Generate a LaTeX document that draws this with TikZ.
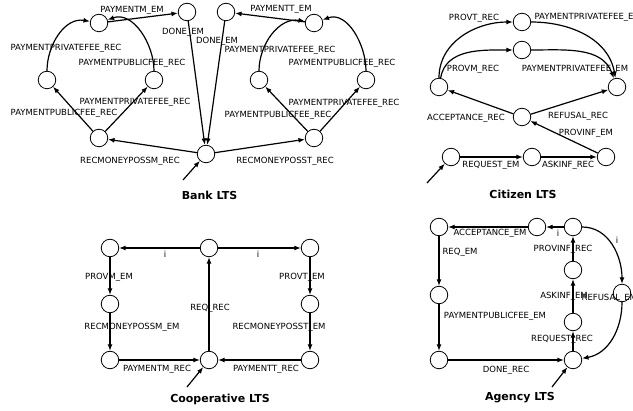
\documentclass[tikz,border=0pt]{standalone}
\usepackage{fontspec}
\setmainfont{DejaVu Sans}
\usetikzlibrary{arrows.meta}
\begin{document}
\begin{tikzpicture}[x=1pt,y=-1pt,
 st/.style={circle,draw,line width=0.8pt,minimum size=17.5pt,inner sep=0pt},
 tr/.style={-{Latex[length=6.5pt,width=5pt]},line width=1.2pt},
 lbl/.style={font=\fontsize{8.5}{10}\selectfont,inner sep=0pt},
 ttl/.style={font=\fontsize{11}{13}\selectfont\bfseries,inner sep=0pt}]
\useasboundingbox (0,0) rectangle (633,411);
% ---------------- Bank LTS
\node[st] (b1) at (99,23) {};
\node[st] (bd1) at (187,12) {};
\node[st] (bd2) at (226,12) {};
\node[st] (b2) at (314,23) {};
\node[st] (bll) at (47,80) {};
\node[st] (blr) at (154,80) {};
\node[st] (brl) at (259,80) {};
\node[st] (brr) at (366,80) {};
\node[st] (bbl) at (99,138) {};
\node[st] (bbr) at (314,138) {};
\node[st] (bc) at (206,154) {};
\coordinate (bi) at (183,180);
\draw[tr] (bi) -- (bc);
\draw[tr] (bc) -- (bbl) node[lbl,at={(130,161)}] {RECMONEYPOSSM\_REC};
\draw[tr] (bc) -- (bbr) node[lbl,at={(285,161)}] {RECMONEYPOSST\_REC};
\draw[tr] (bbl) -- (bll) node[lbl,at={(64,113)}] {PAYMENTPUBLICFEE\_REC};
\draw[tr] (bbl) -- (blr) node[lbl,at={(135,102)}] {PAYMENTPRIVATEFEE\_REC};
\draw[tr] (bbr) -- (brl) node[lbl,at={(278,115)}] {PAYMENTPUBLICFEE\_REC};
\draw[tr] (bbr) -- (brr) node[lbl,at={(344,103)}] {PAYMENTPRIVATEFEE\_REC};
\draw[tr] (bll) to[out=90,in=170] (b1) node[lbl,at={(66,48)}] {PAYMENTPRIVATEFEE\_REC};
\draw[tr] (blr) to[out=90,in=20] (b1) node[lbl,at={(132,63)}] {PAYMENTPUBLICFEE\_REC};
\draw[tr] (brl) to[out=90,in=170] (b2) node[lbl,at={(280,50)}] {PAYMENTPRIVATEFEE\_REC};
\draw[tr] (brr) to[out=90,in=20] (b2) node[lbl,at={(342,63)}] {PAYMENTPUBLICFEE\_REC};
\draw[tr] (b1) -- (bd1) node[lbl,at={(132,10)}] {PAYMENTM\_EM};
\draw[tr] (b2) -- (bd2) node[lbl,at={(281,9)}] {PAYMENTT\_EM};
\draw[tr] (bd1) -- (bc) node[lbl,at={(183,32)}] {DONE\_EM};
\draw[tr] (bd2) -- (bc) node[lbl,at={(217,41)}] {DONE\_EM};
\node[ttl] (tb) at (209.5,195) {Bank LTS};
% ---------------- Citizen LTS
\node[st] (c1) at (522,22) {};
\node[st] (c2) at (522,50) {};
\node[st] (cl) at (439,87) {};
\node[st] (cr) at (617,87) {};
\node[st] (cm) at (522,117) {};
\node[st] (c3) at (451,157) {};
\node[st] (c4) at (532,157) {};
\node[st] (c5) at (606,157) {};
\coordinate (ci) at (427,183);
\draw[tr] (ci) -- (c3);
\draw[tr] (c3) -- (c4) node[lbl,at={(491,165)}] {REQUEST\_EM};
\draw[tr] (c4) -- (c5) node[lbl,at={(568,165)}] {ASKINF\_REC};
\draw[tr] (c5) -- (cm) node[lbl,at={(586,133)}] {PROVINF\_EM};
\draw[tr] (cm) -- (cl) node[lbl,at={(466,118)}] {ACCEPTANCE\_REC};
\draw[tr] (cm) -- (cr) node[lbl,at={(578,116)}] {REFUSAL\_REC};
\draw[tr] (cl) to[out=90,in=180] (c1) node[lbl,at={(474,18)}] {PROVT\_REC};
\draw[tr] (cl) to[out=80,in=180] (c2) node[lbl,at={(473,69)}] {PROVM\_REC};
\draw[tr] (c1) to[out=0,in=100] (cr) node[lbl,anchor=west,at={(534,17)}] {PAYMENTPRIVATEFEE\_EM};
\draw[tr] (c2) to[out=0,in=110] (cr) node[lbl,at={(575,69)}] {PAYMENTPRIVATEFEE\_EM};
\node[ttl] (tc) at (523,194) {Citizen LTS};
% ---------------- Cooperative LTS
\node[st] (ktl) at (110,248) {};
\node[st] (ktm) at (209,248) {};
\node[st] (ktr) at (310,248) {};
\node[st] (kml) at (110,304) {};
\node[st] (kmr) at (310,304) {};
\node[st] (kbl) at (110,360) {};
\node[st] (kbm) at (209,360) {};
\node[st] (kbr) at (310,360) {};
\coordinate (ki) at (187,387);
\draw[tr] (ki) -- (kbm);
\draw[tr] (ktm) -- (ktl) node[lbl,at={(165,254)}] {i};
\draw[tr] (ktm) -- (ktr) node[lbl,at={(258,254)}] {i};
\draw[tr] (ktl) -- (kml) node[lbl,at={(109,277)}] {PROVM\_EM};
\draw[tr] (ktr) -- (kmr) node[lbl,at={(302,277)}] {PROVT\_EM};
\draw[tr] (kml) -- (kbl) node[lbl,at={(132,327)}] {RECMONEYPOSSM\_EM};
\draw[tr] (kmr) -- (kbr) node[lbl,at={(279,327)}] {RECMONEYPOSST\_EM};
\draw[tr] (kbl) -- (kbm) node[lbl,at={(157,369)}] {PAYMENTM\_REC};
\draw[tr] (kbr) -- (kbm) node[lbl,at={(266,369)}] {PAYMENTT\_REC};
\draw[tr] (kbm) -- (ktm) node[lbl,at={(210,308)}] {REQ\_REC};
\node[ttl] (tk) at (220,399) {Cooperative LTS};
% ---------------- Agency LTS
\node[st] (a1) at (439,227) {};
\node[st] (a2) at (537,227) {};
\node[st] (a3) at (573,227) {};
\node[st] (a4) at (573,270) {};
\node[st] (a5) at (573,322) {};
\node[st] (a6) at (573,360) {};
\node[st] (ar) at (622,293) {};
\node[st] (a7) at (439,295) {};
\node[st] (a8) at (439,360) {};
\coordinate (ai) at (552,387);
\draw[tr] (ai) -- (a6);
\draw[tr] (a3) -- (a2) node[lbl,at={(558,233)}] {i};
\draw[tr] (a2) -- (a1) node[lbl,at={(490,233)}] {ACCEPTANCE\_EM};
\draw[tr] (a1) -- (a7) node[lbl,at={(460,252)}] {REQ\_EM};
\draw[tr] (a7) -- (a8) node[lbl,at={(495,316)}] {PAYMENTPUBLICFEE\_EM};
\draw[tr] (a8) -- (a6) node[lbl,at={(506,370)}] {DONE\_REC};
\draw[tr] (a6) -- (a5) node[lbl,at={(562,339)}] {REQUEST\_REC};
\draw[tr] (a5) -- (a4) node[lbl,at={(564,296)}] {ASKINF\_EM};
\draw[tr] (a4) -- (a3) node[lbl,at={(563,249)}] {PROVINF\_REC};
\draw[tr] (a3) to[out=0,in=90] (ar) node[lbl,at={(617,240)}] {i};
\draw[tr] (ar) to[out=-90,in=10] (a6) node[lbl,anchor=west,at={(581,298)}] {REFUSAL\_EM};
\node[ttl] (ta) at (520,398) {Agency LTS};
\end{tikzpicture}
\end{document}
